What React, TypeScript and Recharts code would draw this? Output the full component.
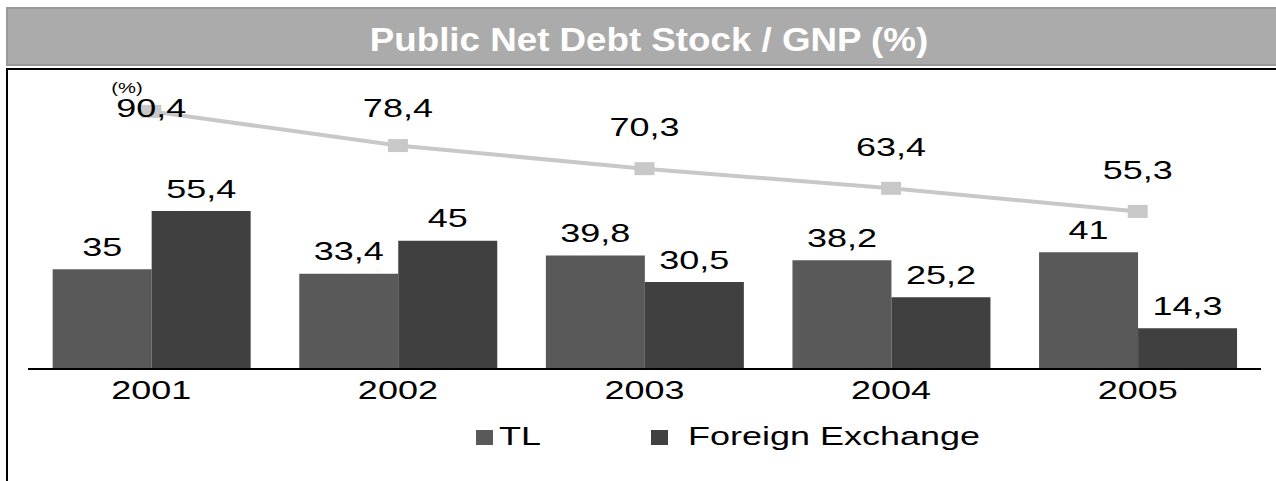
import React from 'react';
import { ComposedChart, Bar, Line, XAxis, YAxis, LabelList } from 'recharts';

const years = ['2001', '2002', '2003', '2004', '2005'];
const tlValues = [35, 33.4, 39.8, 38.2, 41];
const fxValues = [55.4, 45, 30.5, 25.2, 14.3];
const totalValues = [90.4, 78.4, 70.3, 63.4, 55.3];
const seriesNames = { tl: 'TL', fx: 'Foreign Exchange' };
const titleText = 'Public Net Debt Stock / GNP (%)';
const unitText = '(%)';

const data = years.map((y, i) => ({ year: y, tl: tlValues[i], fx: fxValues[i], total: totalValues[i] }));

const FONT = '"Liberation Sans", Arial, sans-serif';
const SX = 1.44;
const TL_COLOR = '#595959';
const FX_COLOR = '#404040';
const LINE_COLOR = '#c8c8c8';

const fmt = (v: any) => String(v).replace('.', ',');

const SText = ({ x, y, children, size = 25, anchor = 'middle' }: any) => (
  <text
    transform={`translate(${x},${y}) scale(${SX},1)`}
    textAnchor={anchor}
    dominantBaseline="central"
    fontSize={size}
    fontFamily={FONT}
    fill="#000"
  >
    {children}
  </text>
);

const BarLabel = (props: any) => {
  const { x, y, width, value } = props;
  return <SText x={x + width / 2} y={y - 22}>{fmt(value)}</SText>;
};

const LineLabel = (props: any) => {
  const { x, y, value } = props;
  const ly = Math.max(y - 41, 109);
  return <SText x={x} y={ly}>{fmt(value)}</SText>;
};

const Tick = (props: any) => {
  const { x, y, payload } = props;
  return <SText x={x} y={y + 22}>{payload.value}</SText>;
};

const Dot = (props: any) => {
  const { cx, cy, index } = props;
  return <rect key={`d${index}`} x={cx - 10} y={cy - 6.5} width={20} height={13} fill={LINE_COLOR} />;
};

export default function App() {
  return (
    <div style={{ position: 'absolute', left: 0, top: 0, width: 1276, height: 481, background: '#fff', overflow: 'hidden' }}>
      <div
        style={{
          position: 'absolute', left: 6, top: 7, width: 1280, height: 55,
          background: '#ababab', border: '2px solid #999', boxSizing: 'content-box',
        }}
      />
      <div
        style={{
          position: 'absolute', left: 649, top: 39, transform: 'translate(-50%,-50%) scaleX(1.08)',
          color: '#fff', fontWeight: 'bold', fontSize: 34, fontFamily: FONT, whiteSpace: 'nowrap',
        }}
      >
        {titleText}
      </div>
      <div style={{ position: 'absolute', left: 6, top: 68, width: 1270, height: 2, background: '#000' }} />
      <div style={{ position: 'absolute', left: 6, top: 68, width: 2, height: 413, background: '#000' }} />
      <div style={{ position: 'absolute', left: 0, top: 0 }}>
        <ComposedChart
          width={1276}
          height={481}
          data={data}
          margin={{ top: 84, right: 15, bottom: 82, left: 28 }}
          barCategoryGap="10%"
          barGap={0}
        >
          <XAxis
            dataKey="year"
            axisLine={{ stroke: '#000', strokeWidth: 2 }}
            tickLine={false}
            tickSize={0}
            tickMargin={0}
            height={30}
            tick={<Tick />}
            interval={0}
          />
          <YAxis hide domain={[0, 100]} />
          <Bar dataKey="tl" name={seriesNames.tl} fill={TL_COLOR} isAnimationActive={false}>
            <LabelList dataKey="tl" content={<BarLabel />} />
          </Bar>
          <Bar dataKey="fx" name={seriesNames.fx} fill={FX_COLOR} isAnimationActive={false}>
            <LabelList dataKey="fx" content={<BarLabel />} />
          </Bar>
          <Line
            dataKey="total"
            stroke={LINE_COLOR}
            strokeWidth={4}
            dot={Dot}
            activeDot={false}
            isAnimationActive={false}
          >
            <LabelList dataKey="total" content={<LineLabel />} />
          </Line>
          <text
            transform={`translate(127,88) scale(${SX},1)`}
            textAnchor="middle"
            dominantBaseline="central"
            fontSize={14}
            fontFamily={FONT}
          >
            {unitText}
          </text>
        </ComposedChart>
      </div>
      <svg style={{ position: 'absolute', left: 0, top: 0 }} width={1276} height={481}>
        <rect x={476} y={430} width={17} height={15} fill={TL_COLOR} />
        <SText x={499} y={437} anchor="start">{seriesNames.tl}</SText>
        <rect x={651} y={430} width={17} height={15} fill={FX_COLOR} />
        <SText x={688} y={437} anchor="start">{seriesNames.fx}</SText>
      </svg>
    </div>
  );
}
